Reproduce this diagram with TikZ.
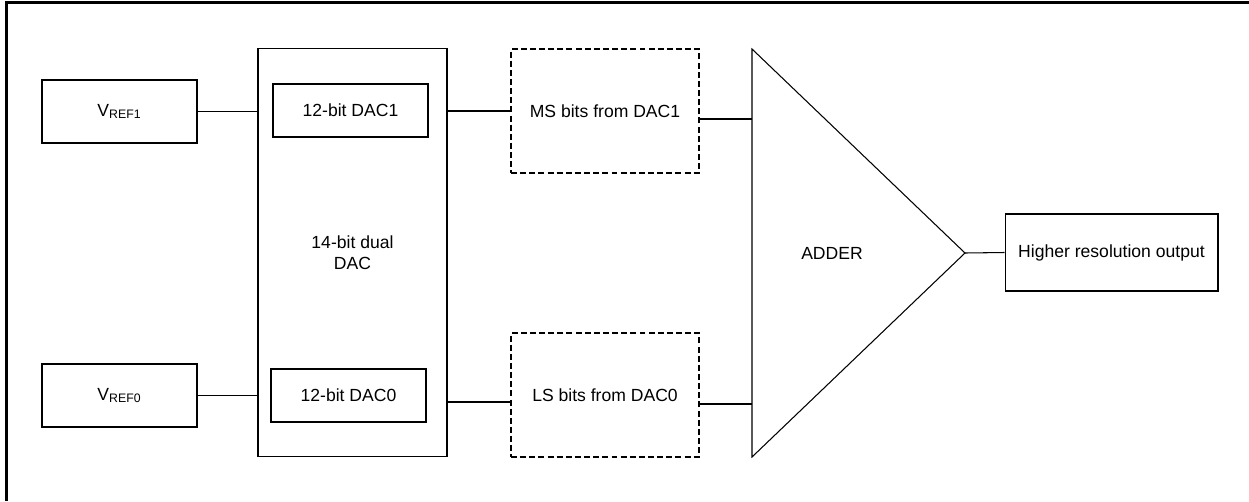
\documentclass[tikz,border=0pt]{standalone}
\usepackage{fontspec}
\setmainfont{Liberation Sans}
\begin{document}
\begin{tikzpicture}[x=0.02cm,y=-0.02cm,
  every node/.style={font=\fontsize{10}{12}\selectfont},
  blk/.style={draw,line width=0.6pt,inner sep=0pt,align=center},
  dblk/.style={blk,dashed,dash pattern=on 3.4pt off 1.8pt},
  wire/.style={line width=0.6pt},
  frame/.style={line width=1.6pt}]
\useasboundingbox (0,0) rectangle (1249,501);
\draw[frame] (6.8,501) -- (6.8,2.8) -- (1249,2.8);
\node[blk,minimum width=3.1cm,minimum height=1.26cm] (vref1) at (119.5,111.5) {V\textsubscript{REF1}};
\node[blk,minimum width=3.1cm,minimum height=1.26cm] (vref0) at (119.5,395.5) {V\textsubscript{REF0}};
\node[blk,minimum width=3.78cm,minimum height=8.18cm] (dual) at (352.5,252.5) {14-bit dual\\DAC};
\node[blk,minimum width=3.1cm,minimum height=1.06cm] (dac1) at (350.5,110.5) {12-bit DAC1};
\node[blk,minimum width=3.1cm,minimum height=1.06cm] (dac0) at (348.5,395.5) {12-bit DAC0};
\node[dblk,minimum width=3.76cm,minimum height=2.48cm] (ms) at (605,111) {MS bits from DAC1};
\node[dblk,minimum width=3.76cm,minimum height=2.48cm] (ls) at (605,395) {LS bits from DAC0};
\coordinate (ttop) at (752,49);
\coordinate (tbot) at (752,457);
\coordinate (tapex) at (965,253);
\draw[wire] (ttop) -- (tapex) -- (tbot) -- cycle;
\node (adder) at (832,253) {ADDER};
\node[blk,minimum width=4.26cm,minimum height=1.54cm] (out) at (1111.5,252.5) {Higher resolution output};
\coordinate (in1) at (752,119);
\coordinate (in0) at (752,404);
\coordinate (d1) at (447,111);
\coordinate (d0) at (447,402);
\draw[wire] (vref1.east) -- (vref1.east -| dual.west);
\draw[wire] (vref0.east) -- (vref0.east -| dual.west);
\draw[wire] (d1) -- (d1 -| ms.west);
\draw[wire] (d0) -- (d0 -| ls.west);
\draw[wire] (in1 -| ms.east) -- (in1);
\draw[wire] (in0 -| ls.east) -- (in0);
\draw[wire] (tapex) -- (out.west);
\end{tikzpicture}
\end{document}
